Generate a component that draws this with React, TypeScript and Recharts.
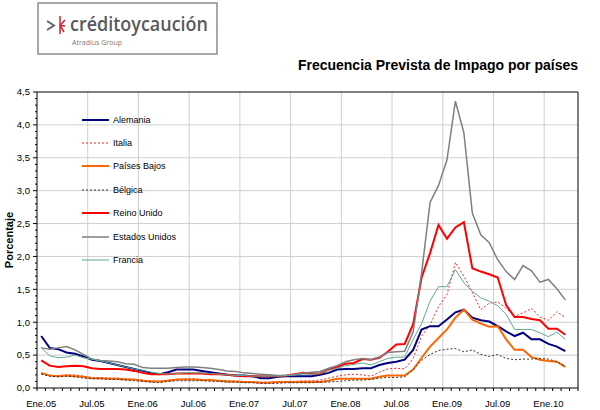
import React from "react";
import {
  LineChart,
  Line,
  XAxis,
  YAxis,
  CartesianGrid,
  Legend,
  ReferenceLine,
} from "recharts";

const FONT = "Arial, 'Liberation Sans', sans-serif";

// axis: Ene.05 .. Abr.10, one category per month
const tickLabels = [
  "Ene.05", "Jul.05", "Ene.06", "Jul.06", "Ene.07", "Jul.07",
  "Ene.08", "Jul.08", "Ene.09", "Jul.09", "Ene.10",
];
const monthCount = 64;

const alemania = [
  0.79, 0.61, 0.59, 0.54, 0.52, 0.48, 0.43, 0.41, 0.38, 0.35, 0.32, 0.29,
  0.26, 0.23, 0.21, 0.24, 0.28, 0.28, 0.28, 0.26, 0.24, 0.22, 0.2, 0.19,
  0.19, 0.18, 0.15, 0.15, 0.17, 0.18, 0.18, 0.18, 0.18, 0.2, 0.23, 0.28,
  0.29, 0.29, 0.3, 0.3, 0.35, 0.38, 0.4, 0.43, 0.58, 0.89, 0.94, 0.94,
  1.04, 1.15, 1.19, 1.07, 1.03, 1.01, 0.94, 0.86, 0.79, 0.84, 0.74, 0.74,
  0.67, 0.63, 0.56,
];
const italia = [
  0.21, 0.19, 0.19, 0.2, 0.2, 0.18, 0.16, 0.16, 0.15, 0.15, 0.14, 0.13,
  0.12, 0.11, 0.1, 0.12, 0.13, 0.14, 0.14, 0.13, 0.12, 0.11, 0.11, 0.1,
  0.1, 0.09, 0.09, 0.09, 0.1, 0.1, 0.1, 0.11, 0.11, 0.12, 0.15, 0.18,
  0.2, 0.21, 0.2, 0.18, 0.24, 0.29, 0.3, 0.29, 0.45, 0.79, 0.96, 1.24,
  1.42, 1.91, 1.7, 1.45, 1.19, 1.29, 1.31, 1.21, 1.09, 1.14, 1.21, 1.08,
  1.03, 1.16, 1.07,
];
const paisesBajos = [
  0.23, 0.19, 0.18, 0.19, 0.18, 0.17, 0.15, 0.15, 0.14, 0.14, 0.13, 0.13,
  0.11, 0.1, 0.1, 0.11, 0.13, 0.13, 0.13, 0.12, 0.12, 0.11, 0.1, 0.1,
  0.09, 0.09, 0.08, 0.08, 0.09, 0.09, 0.09, 0.09, 0.09, 0.09, 0.11, 0.14,
  0.14, 0.14, 0.14, 0.14, 0.17, 0.19, 0.19, 0.19, 0.28, 0.46, 0.63, 0.76,
  0.89, 1.07, 1.19, 1.04, 0.98, 0.93, 0.94, 0.74, 0.58, 0.58, 0.47, 0.43,
  0.41, 0.4, 0.32,
];
const belgica = [
  0.21, 0.18, 0.17, 0.18, 0.17, 0.15, 0.14, 0.14, 0.13, 0.13, 0.12, 0.11,
  0.1, 0.09, 0.08, 0.1, 0.11, 0.11, 0.11, 0.11, 0.1, 0.1, 0.09, 0.09,
  0.08, 0.08, 0.07, 0.07, 0.07, 0.08, 0.08, 0.08, 0.08, 0.09, 0.09, 0.1,
  0.11, 0.12, 0.12, 0.13, 0.15, 0.16, 0.16, 0.17, 0.28, 0.42, 0.51, 0.57,
  0.59, 0.6, 0.55, 0.58, 0.51, 0.48, 0.51, 0.45, 0.43, 0.44, 0.44, 0.45,
  0.44, 0.4, 0.33,
];
const reinoUnido = [
  0.42, 0.34, 0.32, 0.33, 0.34, 0.33, 0.3, 0.29, 0.29, 0.29, 0.28, 0.26,
  0.23, 0.21, 0.21, 0.21, 0.22, 0.22, 0.22, 0.22, 0.21, 0.21, 0.2, 0.19,
  0.18, 0.18, 0.18, 0.18, 0.18, 0.19, 0.21, 0.23, 0.22, 0.22, 0.28, 0.32,
  0.37, 0.38, 0.44, 0.43, 0.46, 0.55, 0.66, 0.67, 0.97, 1.68, 2.05, 2.48,
  2.27, 2.44, 2.52, 1.82, 1.77, 1.73, 1.68, 1.26, 1.08, 1.08, 1.05, 1.03,
  0.9, 0.9, 0.81,
];
const estadosUnidos = [
  0.61, 0.59, 0.61, 0.63, 0.58, 0.51, 0.44, 0.42, 0.41, 0.4, 0.37, 0.36,
  0.31, 0.3, 0.3, 0.3, 0.31, 0.32, 0.32, 0.31, 0.3, 0.28, 0.26, 0.25,
  0.23, 0.22, 0.21, 0.2, 0.19, 0.19, 0.2, 0.23, 0.24, 0.25, 0.3, 0.34,
  0.4, 0.43, 0.45, 0.43, 0.47, 0.54, 0.55, 0.56, 0.85, 1.75, 2.82, 3.08,
  3.47, 4.36, 3.88, 2.66, 2.33, 2.21, 1.95, 1.77, 1.65, 1.86, 1.78, 1.61,
  1.65, 1.51, 1.34,
];
const francia = [
  0.61, 0.49, 0.46, 0.47, 0.5, 0.46, 0.44, 0.41, 0.38, 0.35, 0.32, 0.29,
  0.27, 0.24, 0.22, 0.21, 0.22, 0.23, 0.23, 0.23, 0.22, 0.21, 0.2, 0.19,
  0.19, 0.18, 0.18, 0.18, 0.18, 0.19, 0.2, 0.21, 0.21, 0.22, 0.27, 0.3,
  0.34, 0.36, 0.38, 0.35, 0.4, 0.45, 0.47, 0.47, 0.74, 0.98, 1.32, 1.54,
  1.54, 1.8, 1.6, 1.47, 1.37, 1.32, 1.25, 1.12, 0.89, 0.89, 0.89, 0.84,
  0.78, 0.85, 0.74,
];

const seriesList = [
  { key: "alemania", name: "Alemania", values: alemania, color: "#000080", width: 2, dash: undefined },
  { key: "italia", name: "Italia", values: italia, color: "#ff2020", width: 1, dash: "2 2" },
  { key: "paisesBajos", name: "Países Bajos", values: paisesBajos, color: "#ff6600", width: 2, dash: undefined },
  { key: "belgica", name: "Bélgica", values: belgica, color: "#333333", width: 1, dash: "2 2" },
  { key: "reinoUnido", name: "Reino Unido", values: reinoUnido, color: "#ff0000", width: 2, dash: undefined },
  { key: "estadosUnidos", name: "Estados Unidos", values: estadosUnidos, color: "#7f7f7f", width: 1.5, dash: undefined },
  { key: "francia", name: "Francia", values: francia, color: "#5fa98e", width: 1, dash: undefined },
];

const data = alemania.map((_, i) => {
  const row: Record<string, number> = { m: i };
  seriesList.forEach((s) => {
    row[s.key] = s.values[i];
  });
  return row;
});

const CHART_W = 600;
const CHART_H = 410;
const LEFT_W = 37;
const RIGHT_W = 22;
const TOP = 92;
const XAXIS_H = 22;
const halfStep = (CHART_W - LEFT_W - RIGHT_W) / monthCount / 2;

const xTicks = Array.from({ length: monthCount + 1 }, (_, k) => k - 0.5);
const yTicks = Array.from({ length: 46 }, (_, i) => i / 10);
const gridY = [0.5, 1, 1.5, 2, 2.5, 3, 3.5, 4];
const gridX = Array.from({ length: 10 }, (_, i) => (i + 1) * 6 - 0.5);

const XTick = (props: any) => {
  const { x, y, payload } = props;
  const k = Math.round(payload.value + 0.5);
  const label = k % 6 === 0 ? tickLabels[k / 6] : undefined;
  return (
    <g>
      <line x1={x} x2={x} y1={y} y2={y + 3} stroke="#000" />
      {label && (
        <text x={x + halfStep} y={y + 19} textAnchor="middle" fontSize={9.5} fill="#000" fontFamily={FONT}>
          {label}
        </text>
      )}
    </g>
  );
};

const YTick = (props: any) => {
  const { x, y, payload, side } = props;
  const v = payload.value;
  const major = Math.round(v * 10) % 5 === 0;
  const dir = side === "right" ? 1 : -1;
  return (
    <g>
      <line x1={x} x2={x + dir * (major ? 4 : 2)} y1={y} y2={y} stroke="#000" />
      {major && (
        <text
          x={x + dir * 7}
          y={y}
          dy="0.35em"
          textAnchor={dir < 0 ? "end" : "start"}
          fontSize={9.5}
          fill="#000"
          fontFamily={FONT}
        >
          {v.toFixed(1).replace(".", ",")}
        </text>
      )}
    </g>
  );
};

const LegendBox = () => (
  <div style={{ fontFamily: FONT, fontSize: 9, color: "#000" }}>
    {seriesList.map((s) => (
      <div key={s.key} style={{ display: "flex", alignItems: "center", height: 23.4 }}>
        <svg width={30} height={6}>
          <line x1={0} x2={27} y1={3} y2={3} stroke={s.color} strokeWidth={s.width} strokeDasharray={s.dash} />
        </svg>
        <span style={{ marginLeft: 1 }}>{s.name}</span>
      </div>
    ))}
  </div>
);

const Logo = () => (
  <svg
    width={230}
    height={56}
    style={{ position: "absolute", left: 37, top: 2 }}
  >
    <rect x={1} y={1} width={179} height={51} fill="#fff" stroke="#8a8a8a" strokeWidth={1.5} />
    <polyline points="10,19 17,23.5 10,28" fill="none" stroke="#666" strokeWidth={2} />
    <g stroke="#d2202f" strokeWidth={1.5}>
      <line x1={23} y1={23.5} x2={23} y2={14} />
      <line x1={23} y1={23.5} x2={28} y2={18} />
      <line x1={23} y1={23.5} x2={28} y2={24} />
      <line x1={23} y1={23.5} x2={27} y2={30} />
      <line x1={23} y1={23.5} x2={23} y2={32} />
    </g>
    <text
      x={33}
      y={29}
      fontFamily="'Open Sans', 'Noto Sans', sans-serif"
      fontWeight={600}
      fontSize={19}
      fill="#58595b"
      textLength={138}
      lengthAdjust="spacingAndGlyphs"
    >
      créditoycaución
    </text>
    <text
      x={35}
      y={43}
      fontFamily="'Open Sans', 'Noto Sans', sans-serif"
      fontSize={8}
      fill="#7a7a7a"
      textLength={50}
      lengthAdjust="spacingAndGlyphs"
    >
      Atradius Group
    </text>
  </svg>
);

export default function App() {
  return (
    <div
      style={{
        position: "absolute",
        left: 0,
        top: 0,
        width: CHART_W,
        height: CHART_H,
        background: "#fff",
        fontFamily: FONT,
      }}
    >
      <LineChart
        width={CHART_W}
        height={CHART_H}
        data={data}
        margin={{ top: TOP, right: 0, bottom: 0, left: 0 }}
      >
        <CartesianGrid
          yAxisId="left"
          stroke="#cfcfcf"
          horizontalValues={gridY}
          verticalValues={gridX}
        />
        <XAxis
          dataKey="m"
          type="number"
          domain={[-0.5, monthCount - 0.5]}
          ticks={xTicks}
          interval={0}
          height={XAXIS_H}
          tickSize={0}
          tickMargin={0}
          tickLine={false}
          axisLine={{ stroke: "#000" }}
          tick={<XTick />}
        />
        <YAxis
          yAxisId="left"
          type="number"
          domain={[0, 4.5]}
          ticks={yTicks}
          interval={0}
          width={LEFT_W}
          tickSize={0}
          tickMargin={0}
          tickLine={false}
          axisLine={{ stroke: "#000" }}
          tick={(p: any) => <YTick {...p} side="left" />}
          label={{
            content: () => (
              <text
                x={9}
                y={TOP + (CHART_H - TOP - XAXIS_H) / 2}
                transform={`rotate(-90 9 ${TOP + (CHART_H - TOP - XAXIS_H) / 2})`}
                textAnchor="middle"
                dominantBaseline="central"
                fontSize={11}
                fontWeight="bold"
                fontFamily={FONT}
                fill="#000"
              >
                Porcentaje
              </text>
            ),
          }}
        />
        <YAxis
          yAxisId="right"
          orientation="right"
          type="number"
          domain={[0, 4.5]}
          ticks={yTicks}
          interval={0}
          width={RIGHT_W}
          tickSize={0}
          tickMargin={0}
          tickLine={false}
          axisLine={{ stroke: "#000" }}
          tick={(p: any) => <YTick {...p} side="right" />}
        />
        <ReferenceLine yAxisId="left" y={4.5} stroke="#000" ifOverflow="visible" />
        <Legend
          layout="vertical"
          align="center"
          verticalAlign="middle"
          content={<LegendBox />}
          wrapperStyle={{ left: 82, top: 108, width: 120, height: "auto" }}
        />
        {seriesList.map((s) => (
          <Line
            key={s.key}
            yAxisId="left"
            type="linear"
            dataKey={s.key}
            name={s.name}
            stroke={s.color}
            strokeWidth={s.width}
            strokeDasharray={s.dash}
            dot={false}
            activeDot={false}
            isAnimationActive={false}
          />
        ))}
      </LineChart>
      <Logo />
      <div
        style={{
          position: "absolute",
          left: 0,
          top: 56,
          width: 578,
          textAlign: "right",
          fontSize: 14,
          fontWeight: "bold",
          fontFamily: FONT,
          color: "#000",
          lineHeight: "18px",
        }}
      >
        Frecuencia Prevista de Impago por países
      </div>
    </div>
  );
}
